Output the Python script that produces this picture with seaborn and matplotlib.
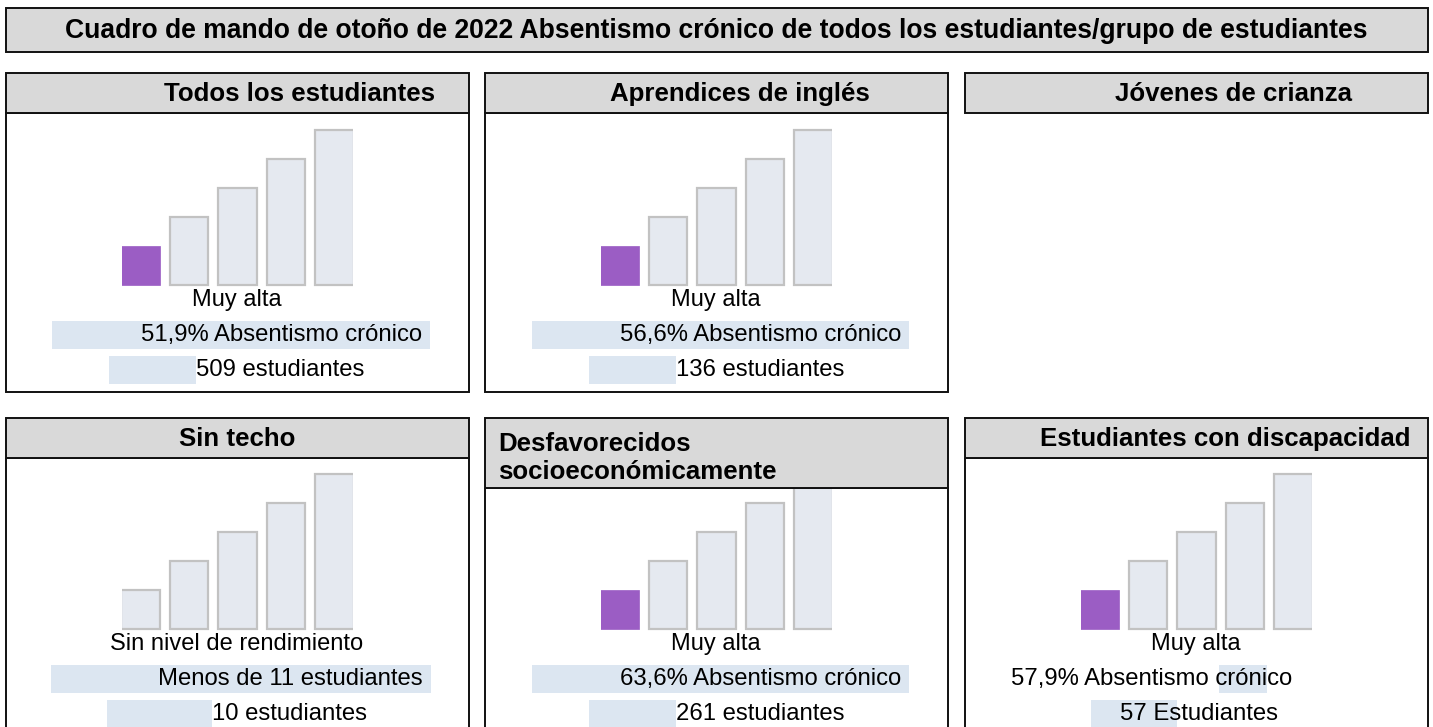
import seaborn as sns
import matplotlib.pyplot as plt
import matplotlib.patches as mpatches
import pandas as pd

title = ("Cuadro de mando de otoño de 2022 Absentismo crónico de todos los "
         "estudiantes/grupo de estudiantes")
groups = ["Todos los estudiantes", "Aprendices de inglés", "Jóvenes de crianza",
          "Sin techo", "Desfavorecidos\nsocioeconómicamente",
          "Estudiantes con discapacidad"]
status = ["Muy alta", "Muy alta", None, "Sin nivel de rendimiento",
          "Muy alta", "Muy alta"]
rate_text = ["51,9% Absentismo crónico", "56,6% Absentismo crónico", None,
             "Menos de 11 estudiantes", "63,6% Absentismo crónico",
             "57,9% Absentismo crónico"]
count_text = ["509 estudiantes", "136 estudiantes", None, "10 estudiantes",
              "261 estudiantes", "57 Estudiantes"]
highlight = [0, 0, None, None, 0, 0]   # index of the coloured level bar
levels = ["Muy alta", "Alta", "Media", "Baja", "Muy baja"]
level_heights = [1.33, 2.33, 3.33, 4.33, 5.33]

# ---- layout (pixels) ----
W, H = 1433, 727
panel_left = [6, 485, 965, 6, 485, 965]
panel_w = 463
head_top = [73, 73, 73, 418, 418, 418]
head_bot = [113, 113, 113, 458, 488, 458]
baseline = [285, 285, None, 629, 629, 629]
head_x = [(300, "center"), (740, "center"), (1234, "center"),
          (237, "center"), (498, "left"), (1225, "center")]
head_dy = [1, 1, 1, 1, 5, 1]
# band1 (x0, x1), text1 (x, ha), band2 (x0, x1), text2 (x, ha) relative to panel left
band_cfg = [
    ((46, 424), (416, "right"), (103, 190), (190, "left")),
    ((47, 424), (416, "right"), (104, 191), (191, "left")),
    None,
    ((45, 425), (417, "right"), (101, 206), (206, "left")),
    ((47, 424), (416, "right"), (104, 191), (191, "left")),
    ((254, 302), (46, "left"), (126, 212), (155, "left")),
]

PURPLE = "#9b5dc4"
BAR_FILL = "#e5e9f0"
BAR_EDGE = "#c2c2c2"
BAND = "#dce6f1"
HEAD = "#d9d9d9"
PX_PER_UNIT = 29
STEP = 48.5
TRIM = 0.025   # hide the outer edge lines of first/last bar

sns.set_theme(style="white")
plt.rcParams['font.family'] = ['Liberation Sans', 'DejaVu Sans']

fig = plt.figure(figsize=(W / 100, H / 100), dpi=100)

# level bars, one small axes per panel
for i in range(len(groups)):
    if baseline[i] is None:
        continue
    L, B = panel_left[i], baseline[i]
    ax_left = L + 115 + TRIM * STEP
    ax_w = (4.8 - 2 * TRIM) * STEP
    y_lo, y_hi = -0.06, 5.45
    ax_bot = B + (-y_lo) * PX_PER_UNIT
    ax_h = (y_hi - y_lo) * PX_PER_UNIT
    bax = fig.add_axes([ax_left / W, 1 - ax_bot / H, ax_w / W, ax_h / H])
    df = pd.DataFrame({"level": levels, "h": level_heights})
    pal = {lv: (PURPLE if k == highlight[i] else BAR_FILL)
           for k, lv in enumerate(levels)}
    sns.barplot(data=df, x="level", y="h", hue="level", palette=pal,
                legend=False, ax=bax, width=0.8, saturation=1)
    for k, p in enumerate(bax.patches):
        if k == highlight[i]:
            p.set_edgecolor(PURPLE)
            p.set_linewidth(0.5)
        else:
            p.set_edgecolor(BAR_EDGE)
            p.set_linewidth(1.6)
    bax.set_xlim(-0.4 + TRIM, 4.4 - TRIM)
    bax.set_ylim(y_lo, y_hi)
    bax.axis("off")
    bax.patch.set_alpha(0)

# overlay for boxes and text
ov = fig.add_axes([0, 0, 1, 1], zorder=10)
ov.set_xlim(0, W)
ov.set_ylim(H, 0)
ov.axis("off")
ov.patch.set_alpha(0)

ov.add_patch(mpatches.Rectangle((6, 8), 1422, 44, facecolor=HEAD,
                                edgecolor="#111111", lw=1.4))
ov.text(W / 2, 31, title, ha="center", va="center", fontsize=19.1,
        fontweight="bold", color="black")

for i, name in enumerate(groups):
    L = panel_left[i]
    ht, hb = head_top[i], head_bot[i]
    if baseline[i] is not None:
        bottom = 392 if i < 3 else 760
        ov.add_patch(mpatches.Rectangle((L, hb), panel_w, bottom - hb,
                                        facecolor="none", edgecolor="#111111",
                                        lw=1.4))
    ov.add_patch(mpatches.Rectangle((L, ht), panel_w, hb - ht, facecolor=HEAD,
                                    edgecolor="#111111", lw=1.4))
    hx, ha = head_x[i]
    ov.text(hx, (ht + hb) / 2 + head_dy[i], name, ha=ha, va="center",
            fontsize=18.6, fontweight="bold", color="black", linespacing=1.25)
    if baseline[i] is None:
        continue
    B = baseline[i]
    ov.text(L + 231, B + 15, status[i], ha="center", va="center", fontsize=17,
            color="black")
    (b1x0, b1x1), (t1x, t1ha), (b2x0, b2x1), (t2x, t2ha) = band_cfg[i]
    ov.add_patch(mpatches.Rectangle((L + b1x0, B + 36), b1x1 - b1x0, 28,
                                    facecolor=BAND, edgecolor="none"))
    ov.text(L + t1x, B + 50, rate_text[i], ha=t1ha, va="center", fontsize=17.2,
            color="black")
    ov.add_patch(mpatches.Rectangle((L + b2x0, B + 71), b2x1 - b2x0, 28,
                                    facecolor=BAND, edgecolor="none"))
    ov.text(L + t2x, B + 85, count_text[i], ha=t2ha, va="center", fontsize=17.2,
            color="black")

fig.savefig("out.png", dpi=100, facecolor="white")
